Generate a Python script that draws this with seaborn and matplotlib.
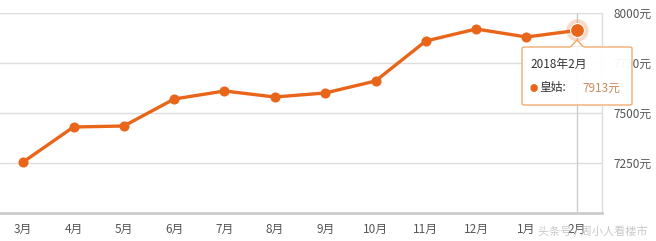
import matplotlib
matplotlib.use("Agg")
import matplotlib.pyplot as plt
import seaborn as sns
import pandas as pd
from matplotlib.patches import FancyBboxPatch, Polygon

months = ["3月", "4月", "5月", "6月", "7月", "8月", "9月", "10月", "11月", "12月", "1月", "2月"]
prices = [7255, 7430, 7435, 7570, 7610, 7580, 7600, 7660, 7860, 7920, 7880, 7913]
yticks = [7250, 7500, 7750, 8000]
ytick_labels = ["7250元", "7500元", "7750元", "8000元"]
tooltip_title = "2018年2月"
series_name = "皇姑"

sns.set_theme(style="white")
plt.rcParams['font.family'] = ['Noto Sans CJK SC', 'DejaVu Sans']

color = "#E8651A"
df = pd.DataFrame({"month": months, "price": prices})

fig = plt.figure(figsize=(6.56, 2.41), dpi=100)
ax = fig.add_axes([-2/656, 28/241, 604/656, 200/241])
ax.set_facecolor("white")

for y in yticks:
    ax.axhline(y, color="#dddddd", lw=1.0, zorder=0)

sns.lineplot(data=df, x="month", y="price", sort=False, color=color, lw=2.4,
             marker="o", markersize=6.5, markeredgecolor=color, ax=ax, zorder=3)

last = len(months) - 1
ax.axvline(last, color="#cccccc", lw=1.0, zorder=1)
ax.plot([last], [prices[-1]], "o", ms=16, color=color, alpha=0.25, zorder=4, mec="none")
ax.plot([last], [prices[-1]], "o", ms=10, color=color, zorder=5, mec="white", mew=0.8)

ax.set_xlim(-0.5, len(months) - 0.5)
ax.set_ylim(7000, 8000)
ax.set_xlabel("")
ax.set_ylabel("")
ax.yaxis.tick_right()
ax.set_yticks(yticks)
ax.set_yticklabels(ytick_labels)
ax.tick_params(axis="y", length=0, labelsize=8.5, labelcolor="#555555", pad=8)
ax.tick_params(axis="x", length=4, color="#cccccc", labelsize=8.5, labelcolor="#555555", pad=3, direction="out")
for s in ["top", "left"]:
    ax.spines[s].set_visible(False)
ax.spines["right"].set_color("#dddddd")
ax.spines["right"].set_linewidth(1.0)
ax.spines["bottom"].set_color("#cccccc")
ax.spines["bottom"].set_linewidth(2.0)
ax.grid(False)

# tooltip (figure coordinates in pixels)
def px(x, y):
    return (x / 656, 1 - y / 241)

box = FancyBboxPatch(px(522, 105), 110 / 656, 58 / 241, boxstyle="round,pad=0,rounding_size=0.005",
                     transform=fig.transFigure, facecolor="#ffffff", edgecolor="#f0a868",
                     lw=1.0, alpha=0.95, zorder=10)
fig.add_artist(box)
tri = Polygon([px(570, 47.5), px(577, 40), px(584, 47.5)], closed=True, transform=fig.transFigure,
              facecolor="white", edgecolor="#f0a868", lw=1.0, zorder=11)
fig.add_artist(tri)
fig.add_artist(plt.Line2D([px(571, 47)[0], px(583, 47)[0]], [px(0, 47.6)[1]] * 2,
                          transform=fig.transFigure, color="white", lw=1.5, zorder=12))
fig.text(*px(530, 64), tooltip_title, fontsize=8.5, color="#333333", va="center", ha="left", zorder=13)
fig.text(*px(530, 88), "●", fontsize=6, color=color, va="center", ha="left", zorder=13)
fig.text(*px(539, 88), series_name + ":", fontsize=8.5, color="#333333", va="center", ha="left", zorder=13)
fig.text(*px(582, 88), f"{prices[-1]}元", fontsize=8.5, color="#c98a5a", va="center", ha="left", zorder=13)

# watermark
fig.text(*px(648, 232), "头条号 / 周小人看楼市", fontsize=8, color="#bbbbbb", alpha=0.8,
         ha="right", va="center", style="italic", zorder=13)

fig.savefig("out.png", dpi=100, facecolor="white")
